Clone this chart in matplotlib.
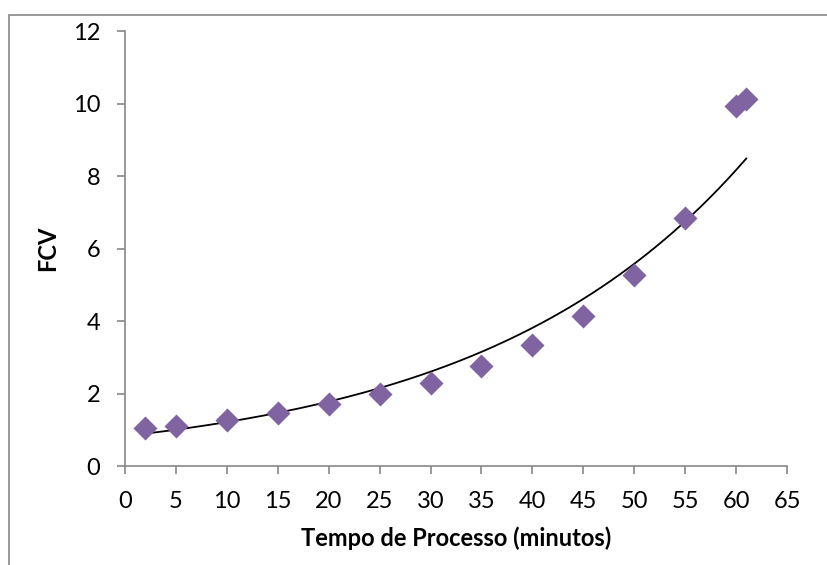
import numpy as np
import matplotlib.pyplot as plt
from matplotlib.patches import Rectangle

# tempo de processo (min) e FCV medido
tempo = [2, 5, 10, 15, 20, 25, 30, 35, 40, 45, 50, 55, 60, 61]
fcv = [1.05, 1.12, 1.26, 1.47, 1.70, 1.98, 2.30, 2.75, 3.33, 4.15, 5.28, 6.85, 9.93, 10.12]

plt.rcParams['font.family'] = ['Lato', 'DejaVu Sans']

fig = plt.figure(figsize=(8.28, 5.65), dpi=100)
ax = fig.add_axes([0.151, 0.175, 0.7995, 0.770])

ax.scatter(tempo, fcv, marker='D', s=150, color='#8064A2', zorder=3, linewidths=0)

# linha de tendencia exponencial (ajuste em ln y)
b, ln_a = np.polyfit(tempo, np.log(fcv), 1)
xs = np.linspace(min(tempo), max(tempo), 200)
ax.plot(xs, np.exp(ln_a) * np.exp(b * xs), color='black', lw=1.3, zorder=2)

ax.set_xlim(0, 65)
ax.set_ylim(0, 12)
ax.set_xticks(range(0, 66, 5))
ax.set_yticks(range(0, 13, 2))

for side in ['top', 'right']:
    ax.spines[side].set_visible(False)
for side in ['left', 'bottom']:
    ax.spines[side].set_color('#888888')
    ax.spines[side].set_linewidth(1.2)
ax.tick_params(colors='#888888', labelcolor='black', labelsize=17, length=6, width=1.2, direction='out')
ax.tick_params(axis='x', pad=12)
ax.tick_params(axis='y', pad=12)

ax.set_xlabel('Tempo de Processo (minutos)', fontsize=17, fontweight='bold', labelpad=10)
ax.set_ylabel('FCV', fontsize=17, fontweight='bold', labelpad=10)

# moldura externa do grafico
fig.patches.append(Rectangle((9 / 828, -0.05), 1.0, 550 / 565 + 0.05, transform=fig.transFigure,
                             fill=False, edgecolor='#888888', linewidth=1.2))

fig.savefig('out.png', dpi=100)
